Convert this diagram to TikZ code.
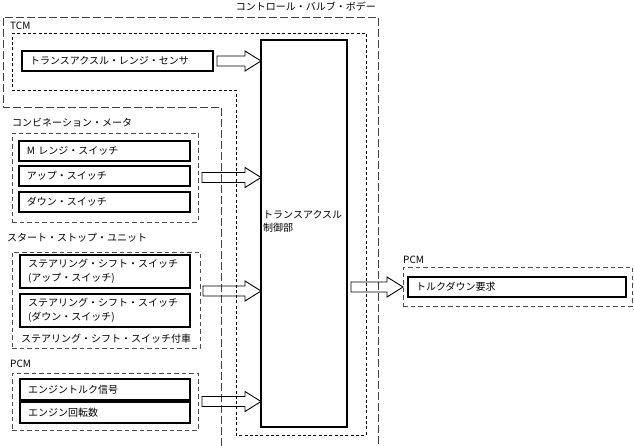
\documentclass[tikz,border=0pt]{standalone}
\usepackage{fontspec}
\setmainfont{Noto Sans CJK JP}
\usetikzlibrary{calc}
\tikzset{
 tbox/.style={draw, line width=1.1pt, anchor=north west, inner xsep=8pt, inner ysep=0pt, outer sep=0pt, align=left, font=\fontsize{10}{14}\selectfont},
 grp/.style={draw=black!70, line width=0.9pt, dash pattern=on 4.5pt off 3pt, anchor=north west, inner sep=0pt, outer sep=0pt},
 lbl/.style={inner sep=0pt, anchor=west, font=\fontsize{10}{13}\selectfont},
 barrowline/.style={draw, line width=0.9pt, line join=miter},
 outerline/.style={draw=black!75, line width=0.9pt, dash pattern=on 8pt off 3pt},
 tcmline/.style={draw, line width=0.9pt, dash pattern=on 3pt off 2.3pt},
}
\newcommand\blockarrow[2]{\path[barrowline] let \p1=#1, \p2=#2 in (\x1,\y1+5pt) -- (\x2-16pt,\y1+5pt) -- (\x2-16pt,\y1+10pt) -- (\x2,\y1) -- (\x2-16pt,\y1-10pt) -- (\x2-16pt,\y1-5pt) -- (\x1,\y1-5pt) -- cycle;}
\begin{document}
\begin{tikzpicture}[x=1pt,y=-1pt]
\useasboundingbox (0,0) rectangle (634,446);
% control valve body
\draw[outerline] (221,446) -- (221,107) -- (3,107) -- (3,17) -- (378,17) -- (378,446);
\node[lbl, anchor=east] (cvb) at (376,7) {コントロール・バルブ・ボデー};
% TCM
\draw[tcmline] (12,33) -- (366,33) -- (366,435) -- (236,435) -- (236,90) -- (12,90) -- cycle;
\node[lbl] (tcm) at (10,26) {TCM};
\node[draw, line width=1.1pt, anchor=north west, minimum width=86pt, minimum height=387pt, inner sep=0pt, outer sep=0pt] (ctrl) at (261,40) {};
\node[lbl, anchor=north west, align=left] (ctrltext) at (263,210) {トランスアクスル\\制御部};
\node[tbox, minimum height=20pt, text width=175pt] (sensor) at (22,51) {トランスアクスル・レンジ・センサ};
% combination meter
\node[lbl] (cmlbl) at (12,123) {コンビネーション・メータ};
\node[grp, minimum width=186pt, minimum height=89pt] (cmeter) at (12,133) {};
\node[tbox, minimum height=20pt, text width=155pt] (mrange) at (19,141) {M レンジ・スイッチ};
\node[tbox, minimum height=20pt, text width=155pt] (up) at (19,166) {アップ・スイッチ};
\node[tbox, minimum height=20pt, text width=155pt] (down) at (19,192) {ダウン・スイッチ};
% start stop unit
\node[lbl] (sslbl) at (7,238) {スタート・ストップ・ユニット};
\node[grp, minimum width=188pt, minimum height=96pt] (ssu) at (12,252) {};
\node[tbox, minimum height=33pt, text width=154pt] (ss1) at (20,255) {ステアリング・シフト・スイッチ\\(アップ・スイッチ)};
\node[tbox, minimum height=33pt, text width=154pt] (ss2) at (20,294) {ステアリング・シフト・スイッチ\\(ダウン・スイッチ)};
\node[lbl] (ssnote) at (21,339) {ステアリング・シフト・スイッチ付車};
% PCM left
\node[lbl] (pcmllbl) at (10,364) {PCM};
\node[grp, minimum width=186pt, minimum height=57pt] (pcml) at (12,373) {};
\node[tbox, minimum height=21pt, text width=154pt] (torque) at (20,379) {エンジントルク信号};
\node[tbox, minimum height=21pt, text width=154pt] (rpm) at (20,402) {エンジン回転数};
% PCM right
\node[lbl] (pcmrlbl) at (403,260) {PCM};
\node[grp, minimum width=229pt, minimum height=39pt] (pcmr) at (403,267) {};
\node[tbox, minimum height=20pt, text width=202pt] (tdown) at (408,277) {トルクダウン要求};
% arrows
\blockarrow{($(sensor.east)+(4pt,0)$)}{(ctrl.west |- sensor.east)}
\blockarrow{($(cmeter.east)+(4pt,0)$)}{(ctrl.west |- cmeter.east)}
\coordinate (ssmid) at ($(ss1.south)!0.5!(ss2.north)$);
\blockarrow{($(ssu.east |- ssmid)+(3pt,0)$)}{(ctrl.west |- ssmid)}
\blockarrow{($(pcml.east)+(4pt,0)$)}{(ctrl.west |- pcml.east)}
\blockarrow{($(ctrl.east |- tdown.west)+(4pt,0)$)}{(pcmr.west |- tdown.west)}
\end{tikzpicture}
\end{document}
